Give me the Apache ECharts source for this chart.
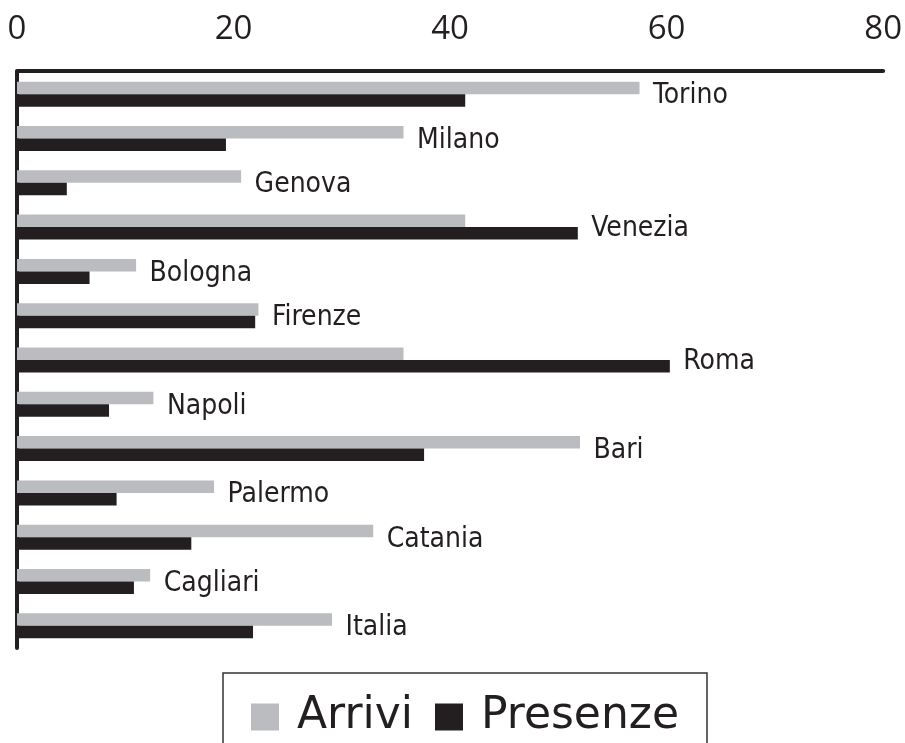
<!DOCTYPE html>
<html>
<head>
<meta charset="utf-8">
<style>
  html, body { margin: 0; padding: 0; background: #fff; }
  #chart { width: 905px; height: 743px; }
</style>
<script src="https://cdn.jsdelivr.net/npm/echarts@6/dist/echarts.min.js"></script>
</head>
<body>
<div id="chart"></div>
<script>
// City names, top to bottom
const categories = ['Torino', 'Milano', 'Genova', 'Venezia', 'Bologna', 'Firenze', 'Roma',
  'Napoli', 'Bari', 'Palermo', 'Catania', 'Cagliari', 'Italia'];
// Arrivals and stays per city
const arrivi = [57.5, 35.7, 20.7, 41.4, 11.0, 22.3, 35.7, 12.6, 52.0, 18.2, 32.9, 12.3, 29.1];
const presenze = [41.4, 19.3, 4.6, 51.8, 6.7, 22.0, 60.3, 8.5, 37.6, 9.2, 16.1, 10.8, 21.8];
// Value axis ticks
const ticks = [0, 20, 40, 60, 80];

const INK = '#231F20';
const GREY = '#BBBCBF';

// City names sit just past the longer of the two bars
const labelAnchors = categories.map((c, i) => [Math.max(arrivi[i], presenze[i]), c]);

const chart = echarts.init(document.getElementById('chart'));
chart.setOption({
  animation: false,
  grid: { left: 17, right: 20, top: 72, bottom: 95, containLabel: false },
  xAxis: {
    type: 'value',
    position: 'top',
    min: ticks[0],
    max: ticks[ticks.length - 1],
    interval: ticks[1] - ticks[0],
    offset: 1.5,
    axisLine: { show: true, lineStyle: { color: INK, width: 4 } },
    axisTick: { show: false },
    splitLine: { show: false },
    axisLabel: {
      color: INK,
      fontFamily: 'Open Sans',
      fontSize: 33,
      margin: 24
    }
  },
  yAxis: {
    type: 'category',
    data: categories,
    inverse: true,
    offset: 2,
    axisLine: { show: true, lineStyle: { color: INK, width: 4 } },
    axisTick: { show: false },
    axisLabel: { show: false },
    splitLine: { show: false }
  },
  legend: {
    data: ['Arrivi', 'Presenze'],
    left: 223,
    top: 673,
    orient: 'horizontal',
    itemWidth: 28,
    itemHeight: 27,
    itemGap: 22,
    padding: [22, 28, 40, 28],
    borderColor: '#333',
    borderWidth: 1.5,
    icon: 'rect',
    selectedMode: false,
    textStyle: {
      color: INK,
      fontFamily: 'DejaVu Sans',
      fontSize: 44,
      padding: [0, 0, 0, 13]
    }
  },
  series: [
    {
      name: 'Arrivi',
      type: 'bar',
      data: arrivi,
      barWidth: 12.5,
      barGap: '0%',
      itemStyle: { color: GREY },
      silent: true
    },
    {
      name: 'Presenze',
      type: 'bar',
      data: presenze,
      barWidth: 12.5,
      barGap: '0%',
      itemStyle: { color: INK },
      silent: true
    },
    {
      name: 'nomi',
      type: 'scatter',
      data: labelAnchors,
      symbol: 'circle',
      symbolSize: 1,
      itemStyle: { color: 'rgba(0,0,0,0)' },
      silent: true,
      label: {
        show: true,
        position: 'right',
        distance: 13,
        offset: [0, 2],
        formatter: p => p.value[1],
        color: INK,
        opacity: 1,
        fontFamily: '"DejaVu Sans Condensed", "DejaVu Sans"',
        fontSize: 28
      }
    }
  ]
});
</script>
</body>
</html>
